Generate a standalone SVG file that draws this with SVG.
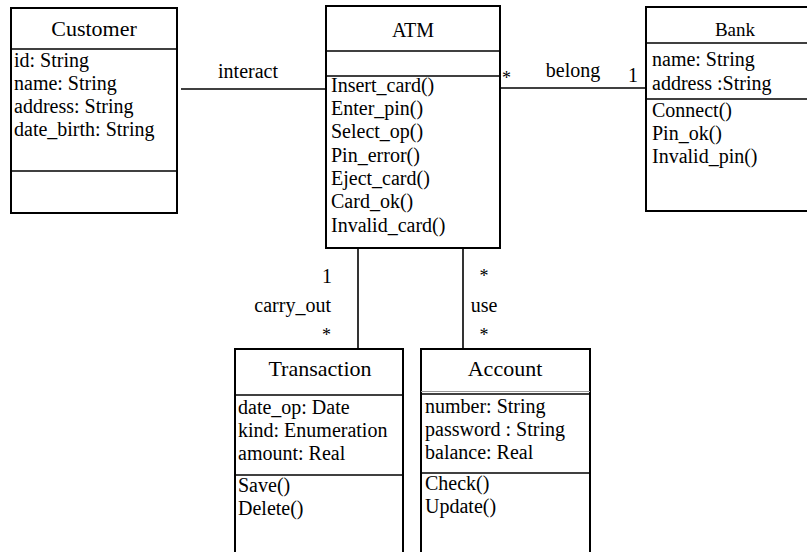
<svg xmlns="http://www.w3.org/2000/svg" width="807" height="552" viewBox="0 0 807 552">
<style>
.box{fill:#fff;stroke:#000;stroke-width:2}
.sep{stroke:#000;stroke-width:1.6}
.conn{stroke:#000;stroke-width:1.6;fill:none}
text{font-family:"Liberation Serif","Times New Roman",serif;fill:#000}
.t{font-size:20px}
.title{font-size:22px;text-anchor:middle}
.lbl{font-size:20px}
.star{font-size:18px}
</style>
<rect width="807" height="552" fill="#fff"/>
<g id="connectors">
<line class="conn" x1="181" y1="89" x2="326" y2="89"/>
<line class="conn" x1="500" y1="88" x2="646" y2="88"/>
<line class="conn" x1="358" y1="248" x2="358" y2="349"/>
<line class="conn" x1="463" y1="248" x2="463" y2="349"/>
<text class="lbl" x="248" y="78" text-anchor="middle">interact</text>
<text class="star" x="502" y="84">*</text>
<text class="lbl" x="573" y="77" text-anchor="middle">belong</text>
<text class="lbl" x="638" y="82" text-anchor="end">1</text>
<text class="lbl" x="332" y="283" text-anchor="end">1</text>
<text class="lbl" x="331" y="312" text-anchor="end">carry_out</text>
<text class="star" x="331" y="341" text-anchor="end">*</text>
<text class="star" x="484" y="282" text-anchor="middle">*</text>
<text class="lbl" x="484" y="312" text-anchor="middle">use</text>
<text class="star" x="484" y="341" text-anchor="middle">*</text>
</g>
<g id="customer">
<rect class="box" x="11" y="8" width="166" height="205"/>
<line class="sep" x1="11" y1="49" x2="177" y2="49"/>
<line class="sep" x1="11" y1="171" x2="177" y2="171"/>
<text class="title" x="94" y="36">Customer</text>
<text class="t" x="14" y="67">id: String</text>
<text class="t" x="14" y="90">name: String</text>
<text class="t" x="14" y="113">address: String</text>
<text class="t" x="14" y="136">date_birth: String</text>
</g>
<g id="atm">
<rect class="box" x="326" y="6" width="174" height="242"/>
<line class="sep" x1="326" y1="51" x2="500" y2="51"/>
<line class="sep" x1="326" y1="76" x2="500" y2="76"/>
<text class="title" x="413" y="37" style="font-size:20px">ATM</text>
<text class="t" x="331" y="92">Insert_card()</text>
<text class="t" x="331" y="115">Enter_pin()</text>
<text class="t" x="331" y="138">Select_op()</text>
<text class="t" x="331" y="162">Pin_error()</text>
<text class="t" x="331" y="185">Eject_card()</text>
<text class="t" x="331" y="208">Card_ok()</text>
<text class="t" x="331" y="232">Invalid_card()</text>
</g>
<g id="bank">
<rect class="box" x="646" y="7" width="175" height="204"/>
<line class="sep" x1="646" y1="43" x2="807" y2="43"/>
<line class="sep" x1="646" y1="99" x2="807" y2="99"/>
<text class="title" x="735" y="36" style="font-size:19px">Bank</text>
<text class="t" x="652" y="66">name: String</text>
<text class="t" x="652" y="90">address :String</text>
<text class="t" x="652" y="117">Connect()</text>
<text class="t" x="652" y="140">Pin_ok()</text>
<text class="t" x="652" y="163">Invalid_pin()</text>
</g>
<g id="transaction">
<rect class="box" x="235" y="349" width="168" height="215"/>
<line class="sep" x1="235" y1="395" x2="403" y2="395"/>
<line class="sep" x1="235" y1="475" x2="403" y2="475"/>
<text class="title" x="320" y="376">Transaction</text>
<text class="t" x="238" y="414">date_op: Date</text>
<text class="t" x="238" y="437">kind: Enumeration</text>
<text class="t" x="238" y="460">amount: Real</text>
<text class="t" x="238" y="492">Save()</text>
<text class="t" x="238" y="515">Delete()</text>
</g>
<g id="account">
<rect class="box" x="421" y="349" width="169" height="215"/>
<line x1="421" y1="391.5" x2="590" y2="391.5" stroke="#999" stroke-width="1"/>
<line class="sep" x1="421" y1="394" x2="590" y2="394"/>
<line class="sep" x1="421" y1="473" x2="590" y2="473"/>
<text class="title" x="505" y="376">Account</text>
<text class="t" x="425" y="413">number: String</text>
<text class="t" x="425" y="436">password : String</text>
<text class="t" x="425" y="459">balance: Real</text>
<text class="t" x="425" y="490">Check()</text>
<text class="t" x="425" y="513">Update()</text>
</g>
</svg>
